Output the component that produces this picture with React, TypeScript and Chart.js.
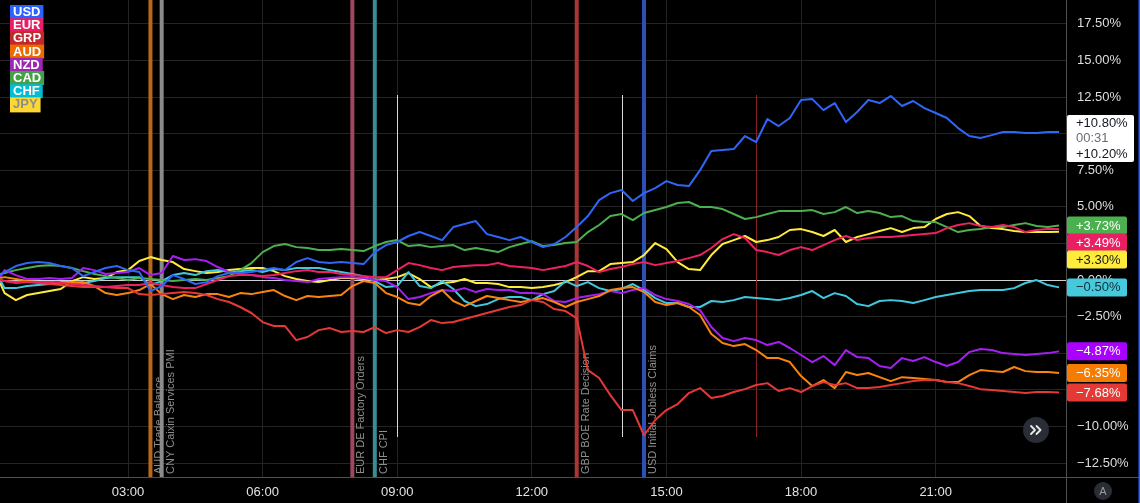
import React, { useEffect, useRef } from 'react';
import { Chart, registerables } from 'chart.js';

Chart.register(...registerables);

// ---------- DATA ----------
const TIMES = [
  0.15, 0.25, 0.5, 0.75,
  1, 1.25, 1.5, 1.75,
  2, 2.25, 2.5, 2.75,
  3, 3.25, 3.5, 3.75,
  4, 4.25, 4.5, 4.75,
  5, 5.25, 5.5, 5.75,
  6, 6.25, 6.5, 6.75,
  7, 7.25, 7.5, 7.75,
  8, 8.25, 8.5, 8.75,
  9, 9.25, 9.5, 9.75,
  10, 10.25, 10.5, 10.75,
  11, 11.25, 11.5, 11.75,
  12, 12.25, 12.5, 12.75,
  13, 13.25, 13.5, 13.75,
  14, 14.25, 14.5, 14.75,
  15, 15.25, 15.5, 15.75,
  16, 16.25, 16.5, 16.75,
  17, 17.25, 17.5, 17.75,
  18, 18.25, 18.5, 18.75,
  19, 19.25, 19.5, 19.75,
  20, 20.25, 20.5, 20.75,
  21, 21.25, 21.5, 21.75,
  22, 22.25, 22.5, 22.75,
  23, 23.25, 23.5, 23.75,
];

const USD = [
  0.34, 0.55, 0.96, 1.16,
  1.23, 1.16, 0.96, 0.82,
  0.27, 0.55, 0.82, 0.96,
  0.68, 0.55, -0.75, -0.41,
  0.34, 0.07, -0.27, -0.14,
  0.27, 0.48, 0.48, 0.55,
  0.68, 0.82, 0.68, 1.23,
  1.5, 1.23, 1.16, 1.23,
  1.16, 1.09, 1.91, 2.39,
  2.6, 3.01, 3.28, 3.01,
  2.73, 3.62, 3.83, 4.03,
  3.14, 2.94, 2.73, 2.94,
  2.6, 2.25, 2.46, 2.94,
  3.62, 4.37, 5.46, 5.94,
  6.15, 5.4, 5.94, 6.28,
  6.76, 6.49, 6.42, 7.51,
  8.81, 8.88, 8.95, 9.84,
  9.43, 11.0, 10.52, 11.07,
  12.3, 12.36, 11.61, 12.09,
  10.79, 11.48, 12.3, 12.09,
  12.57, 11.89, 12.23, 11.75,
  11.41, 11.07, 10.38, 9.84,
  9.7, 9.9, 10.11, 10.11,
  10.04, 10.04, 10.11, 10.11,
];

const EUR = [
  0, -0.07, -0.2, -0.14,
  -0.14, -0.14, -0.2, -0.27,
  -0.34, -0.41, -0.48, -0.41,
  -0.34, -0.34, -0.2, -0.34,
  -0.48, -0.55, -0.55, -0.27,
  0, 0.27, 0.34, 0.34,
  0.27, 0.34, 0.48, 0.61,
  0.68, 0.55, 0.55, 0.41,
  0.34, 0.27, 0.2, 0.2,
  0.68, 1.16, 1.02, 0.82,
  0.68, 0.89, 0.96, 1.02,
  1.02, 1.16, 0.96, 0.89,
  0.82, 0.68, 0.82, 0.96,
  1.23, 0.96, 0.55, 0.75,
  0.89, 1.09, 1.23, 1.02,
  1.16, 1.3, 1.5, 1.71,
  2.19, 2.8, 3.14, 2.87,
  2.05, 1.91, 1.71, 2.05,
  2.25, 2.05, 2.39, 2.73,
  3.01, 2.73, 2.87, 2.94,
  2.94, 3.01, 3.07, 3.14,
  3.21, 3.55, 3.76, 3.89,
  3.69, 3.62, 3.76, 3.62,
  3.28, 3.42, 3.48, 3.49,
];

const GBP = [
  0, -0.07, -0.14, -0.14,
  -0.2, -0.27, -0.34, -0.41,
  -0.48, -0.48, -0.48, -0.55,
  -0.55, -0.96, -1.02, -0.96,
  -0.89, -0.82, -0.89, -1.02,
  -1.3, -1.5, -1.84, -2.25,
  -2.87, -3.14, -3.14, -4.1,
  -3.89, -3.42, -3.28, -3.55,
  -3.48, -3.55, -3.21, -3.62,
  -3.42, -3.55, -3.21, -2.73,
  -2.94, -2.87, -2.66, -2.46,
  -2.25, -2.05, -1.84, -1.71,
  -1.37, -1.5, -1.98, -2.12,
  -2.6, -6.15, -6.69, -7.86,
  -8.88, -8.88, -10.6, -9.56,
  -8.88, -8.47, -7.72, -7.38,
  -8.06, -7.92, -7.65, -7.45,
  -7.17, -7.04, -7.58, -7.38,
  -7.65, -7.24, -6.97, -7.17,
  -7.04, -7.38, -7.38, -7.31,
  -7.17, -7.04, -6.9, -6.83,
  -6.83, -6.97, -7.04, -7.24,
  -7.45, -7.51, -7.58, -7.65,
  -7.72, -7.65, -7.65, -7.68,
];

const AUD = [
  0.14, 0.2, 0.07, -0.07,
  -0.14, -0.14, -0.2, -0.2,
  -0.14, -0.41, -0.89, -1.02,
  -0.89, -0.68, -0.27, -0.96,
  -1.3, -1.02, -1.16, -0.96,
  -0.96, -1.16, -0.89, -0.96,
  -0.82, -0.68, -1.09, -1.37,
  -1.09, -1.16, -1.09, -1.02,
  -0.41, -0.07, -0.2, -0.89,
  -1.16, -1.57, -1.71, -1.09,
  -0.68, -1.43, -1.78, -1.43,
  -1.09, -1.23, -1.37, -1.5,
  -1.37, -1.23, -1.5, -1.84,
  -1.5, -1.3, -1.09, -0.68,
  -0.55, -0.48, -0.82, -1.5,
  -1.71, -1.57, -1.84, -2.39,
  -3.69, -4.3, -4.51, -4.37,
  -4.78, -5.33, -5.33, -5.6,
  -6.56, -7.24, -6.83, -7.38,
  -6.28, -6.49, -6.35, -6.63,
  -6.9, -6.63, -6.69, -6.76,
  -6.83, -6.97, -6.97, -6.49,
  -6.15, -6.22, -6.28, -5.94,
  -6.22, -6.28, -6.28, -6.35,
];

const NZD = [
  0.2, 0.68, 0.34, 0.07,
  0.07, 0.14, 0.07, 0.14,
  0.82, 0.68, 0.41, 0.48,
  0.55, 0.82, 0.34, 0.48,
  1.64, 1.37, 1.43, 1.3,
  0.89, 0.55, 0.41, 0.34,
  0.2, 0.14, 0, -0.07,
  -0.14, 0.07, 0.14, 0.2,
  0.2, 0.14, 0, -0.07,
  -0.48, -1.3, -1.16, -0.89,
  -0.68, -0.75, -0.55, -0.82,
  -0.61, -0.68, -0.68, -0.89,
  -0.89, -0.96, -1.43, -1.5,
  -1.23, -1.09, -0.96, -0.75,
  -0.89, -0.68, -0.55, -1.02,
  -1.3, -1.43, -1.64, -2.05,
  -3.21, -3.96, -4.17, -3.96,
  -4.1, -4.44, -4.23, -4.64,
  -5.12, -5.6, -5.19, -5.81,
  -4.78, -5.26, -5.33, -5.87,
  -6.01, -5.33, -5.53, -5.26,
  -5.6, -5.87, -5.6, -4.92,
  -4.71, -4.78, -4.99, -5.05,
  -5.12, -5.05, -4.99, -4.87,
];

const CAD = [
  0.41, 0.48, 0.68, 0.82,
  0.96, 1.02, 0.96, 0.82,
  0.61, 0.41, 0.27, 0.14,
  0, 0.14, 0.07, 0,
  -0.07, 0, 0.07, 0,
  0.14, 0.27, 0.68, 1.16,
  1.91, 2.32, 2.46, 2.25,
  2.19, 2.05, 2.05, 2.12,
  2.05, 1.98, 2.32, 2.6,
  2.73, 2.32, 2.39, 2.25,
  2.32, 2.39, 2.05, 2.19,
  2.05, 1.91, 2.25, 2.46,
  2.66, 2.32, 2.39, 2.53,
  2.6, 3.28, 3.76, 4.37,
  4.51, 4.1, 4.58, 4.78,
  4.99, 5.26, 5.33, 4.99,
  4.99, 4.85, 4.51, 4.17,
  4.3, 4.51, 4.71, 4.71,
  4.71, 4.78, 4.51, 4.64,
  4.99, 4.58, 4.71, 4.58,
  4.3, 4.37, 4.03, 3.96,
  3.96, 3.62, 3.28, 3.42,
  3.48, 3.62, 3.62, 3.76,
  3.89, 3.69, 3.62, 3.73,
];

const CHF = [
  0, -0.55, -0.55, -0.41,
  -0.34, -0.27, -0.14, -0.14,
  -0.2, -0.07, 0.14, 0.2,
  0.2, 0.2, -0.34, -0.07,
  0.34, 0.48, 0.34, 0.61,
  0.68, 0.55, 0.61, 0.68,
  0.55, 0.75, 0.68, 0.82,
  0.82, 0.82, 0.68, 0.55,
  0.41, 0.27, -0.07, -0.48,
  -0.41, 0.55, -0.41, -0.55,
  -0.07, -0.61, -1.43, -1.78,
  -1.64, -1.3, -1.16, -1.16,
  -1.37, -0.96, -0.75, -0.07,
  -0.41, -0.14, -0.55, -0.75,
  -0.61, -0.27, -0.68, -1.23,
  -1.57, -1.57, -1.84, -1.84,
  -1.43, -1.5, -1.37, -1.16,
  -1.23, -1.3, -1.37, -1.23,
  -1.02, -0.75, -1.23, -0.89,
  -1.09, -1.64, -1.78, -1.43,
  -1.37, -1.43, -1.57, -1.37,
  -1.16, -1.02, -0.89, -0.75,
  -0.68, -0.68, -0.68, -0.55,
  -0.2, 0, -0.34, -0.5,
];

const JPY = [
  -0.2, -0.89, -1.37, -1.02,
  -0.89, -0.75, -0.61, -0.07,
  0.2, 0.07, 0.14, 0.55,
  0.68, 1.3, 1.57, 1.37,
  1.23, 0.75, 0.61, 0.48,
  0.55, 0.68, 0.75, 0.82,
  0.82, 0.61, 0.27, 0.07,
  -0.07, -0.14, 0, 0.14,
  0.14, 0.07, 0, 0.07,
  0.2, 0.48, 0.07, -0.48,
  -0.2, -0.14, 0.07, -0.2,
  -0.2, -0.27, -0.48, -0.48,
  -0.55, -0.48, -0.34, -0.14,
  0.2, 0.61, 0.61, 1.09,
  1.16, 1.23, 1.71, 2.53,
  2.12, 1.23, 0.75, 0.68,
  1.71, 2.46, 2.73, 3.01,
  2.6, 2.73, 2.94, 3.42,
  3.48, 3.28, 3.01, 3.42,
  2.6, 2.94, 3.14, 3.35,
  3.55, 3.28, 3.55, 3.62,
  4.17, 4.51, 4.64, 4.37,
  3.69, 3.55, 3.48, 3.35,
  3.28, 3.28, 3.28, 3.3,
];

const CURRENCIES = ['USD', 'EUR', 'GBP', 'AUD', 'NZD', 'CAD', 'CHF', 'JPY'];
const LEGEND_TEXT = ['USD', 'EUR', 'GRP', 'AUD', 'NZD', 'CAD', 'CHF', 'JPY'];
const SERIES = [USD, EUR, GBP, AUD, NZD, CAD, CHF, JPY];

// last-value tags (currency index, value)
const TAG_CURRENCY = ['CAD', 'EUR', 'JPY', 'CHF', 'NZD', 'AUD', 'GBP'];
const TAG_VALUES = [3.73, 3.49, 3.3, -0.5, -4.87, -6.35, -7.68];
const USD_TAG_HIGH = 10.8;
const USD_TAG_LOW = 10.2;
const USD_TAG_TIME = '00:31';

const X_TICKS = [3, 6, 9, 12, 15, 18, 21];
const X_TICK_LABELS = ['03:00', '06:00', '09:00', '12:00', '15:00', '18:00', '21:00'];
const Y_TICKS = [-12.5, -10, -7.5, -5, -2.5, 0, 2.5, 5, 7.5, 10, 12.5, 15, 17.5];
const X_MIN = 0.147;
const X_MAX = 23.905;
const Y_MIN = -13.52;
const Y_MAX = 19.13;

const EVENT_TIMES = [3.5, 3.75, 8.0, 8.5, 13.0, 14.5];
const EVENT_LABELS = [
  'AUD Trade Balance',
  'CNY Caixin Services PMI',
  'EUR DE Factory Orders',
  'CHF CPI',
  'GBP BOE Rate Decision',
  'USD Initial Jobless Claims',
];
const MARKER_TIMES = [9.0, 14.0, 17.0];
const MARKER_TOP = 12.64;
const MARKER_BOTTOM = -10.72;

// ---------- STYLES ----------
const COLORS: Record<string, string> = {
  USD: '#2f66f6',
  EUR: '#ee2160',
  GBP: '#e53935',
  AUD: '#f98410',
  NZD: '#a61ff2',
  CAD: '#4caf50',
  CHF: '#40c8dc',
  JPY: '#ffeb3b',
};
const LEGEND_BG: Record<string, string> = {
  USD: '#2962ff',
  EUR: '#e91e63',
  GBP: '#c0282e',
  AUD: '#ec6a00',
  NZD: '#9c27b0',
  CAD: '#43a047',
  CHF: '#00bcd4',
  JPY: '#fdd835',
};
const TAG_BG: Record<string, string> = {
  CAD: '#4caf50',
  EUR: '#e91e63',
  JPY: '#ffeb3b',
  CHF: '#46c9dd',
  NZD: '#aa00ff',
  AUD: '#f57c00',
  GBP: '#e53935',
};
const TAG_FG: Record<string, string> = {
  CAD: '#ffffff',
  EUR: '#ffffff',
  JPY: '#131722',
  CHF: '#0f2f36',
  NZD: '#ffffff',
  AUD: '#ffffff',
  GBP: '#ffffff',
};
const EVENT_COLORS = ['#b9671a', '#8a8a8a', '#9e4860', '#3b8d94', '#a73636', '#2d50b3'];
const MARKER_COLORS = ['#d8d8d8', '#d8d8d8', '#8a2222'];
const FONT = '"Liberation Sans", Arial, Helvetica, sans-serif';

function fmtPct(v: number) {
  return (v > 0 ? '+' : v < 0 ? '\u2212' : '') + Math.abs(v).toFixed(2) + '%';
}

const overlayPlugin = {
  id: 'overlay',
  beforeDatasetsDraw(chart: any) {
    const { ctx, chartArea, scales } = chart;
    const xs = scales.x;
    const ys = scales.y;
    ctx.save();
    // thin markers
    MARKER_TIMES.forEach((t, i) => {
      const px = Math.round(xs.getPixelForValue(t)) + 0.5;
      ctx.strokeStyle = MARKER_COLORS[i];
      ctx.lineWidth = 1;
      ctx.beginPath();
      ctx.moveTo(px, ys.getPixelForValue(MARKER_TOP));
      ctx.lineTo(px, ys.getPixelForValue(MARKER_BOTTOM));
      ctx.stroke();
    });
    // event bands
    EVENT_TIMES.forEach((t, i) => {
      const px = xs.getPixelForValue(t);
      ctx.fillStyle = EVENT_COLORS[i];
      ctx.fillRect(px - 2, chartArea.top, 4, chartArea.bottom - chartArea.top);
    });
    // event labels
    ctx.font = '11px ' + FONT;
    ctx.fillStyle = '#8e8e8e';
    ctx.textAlign = 'left';
    ctx.textBaseline = 'middle';
    EVENT_TIMES.forEach((t, i) => {
      const px = xs.getPixelForValue(t);
      ctx.save();
      ctx.translate(px + 9, chartArea.bottom - 4);
      ctx.rotate(-Math.PI / 2);
      ctx.fillText(EVENT_LABELS[i], 0, 0);
      ctx.restore();
    });
    ctx.restore();
  },
  afterDraw(chart: any) {
    const { ctx, chartArea, scales, width, height } = chart;
    const ys = scales.y;
    ctx.save();

    // axis separator lines
    ctx.strokeStyle = '#505050';
    ctx.lineWidth = 1;
    ctx.beginPath();
    ctx.moveTo(0, Math.round(chartArea.bottom) - 0.5);
    ctx.lineTo(width, Math.round(chartArea.bottom) - 0.5);
    ctx.moveTo(Math.round(chartArea.right) + 0.5, 0);
    ctx.lineTo(Math.round(chartArea.right) + 0.5, height);
    ctx.stroke();

    // right edge accent
    ctx.fillStyle = '#2962ff';
    ctx.fillRect(width - 1.5, 0, 1.5, height);

    // legend
    ctx.font = 'bold 13px ' + FONT;
    ctx.textBaseline = 'middle';
    ctx.textAlign = 'left';
    CURRENCIES.forEach((c, i) => {
      const top = 5 + i * 13.2;
      const w = ctx.measureText(LEGEND_TEXT[i]).width + 6;
      ctx.fillStyle = LEGEND_BG[c];
      ctx.fillRect(10, top, w, i === CURRENCIES.length - 1 ? 15 : 14);
      ctx.fillStyle = c === 'JPY' ? '#8d8d8d' : '#ffffff';
      ctx.fillText(LEGEND_TEXT[i], 13, top + 7.5);
    });

    // last-value tags
    const tagLeft = chartArea.right + 1;
    const tagW = 60;
    const tagH = 18;
    ctx.font = '13px ' + FONT;
    let prevCenter = -Infinity;
    TAG_CURRENCY.forEach((c, i) => {
      let cy = ys.getPixelForValue(TAG_VALUES[i]);
      if (cy < prevCenter + 17) cy = prevCenter + 17;
      prevCenter = cy;
      ctx.fillStyle = TAG_BG[c];
      ctx.beginPath();
      ctx.roundRect(tagLeft, cy - tagH / 2, tagW, tagH, 2);
      ctx.fill();
      ctx.fillStyle = TAG_FG[c];
      ctx.fillText(fmtPct(TAG_VALUES[i]), tagLeft + 9, cy + 0.5);
    });

    // USD white box
    const top = ys.getPixelForValue(USD_TAG_HIGH) - 7;
    ctx.fillStyle = '#ffffff';
    ctx.beginPath();
    ctx.roundRect(tagLeft, top, 67, 47, 2);
    ctx.fill();
    ctx.fillStyle = '#131722';
    ctx.fillText(fmtPct(USD_TAG_HIGH), tagLeft + 9, top + 8.5);
    ctx.fillStyle = '#6a6d78';
    ctx.fillText(USD_TAG_TIME, tagLeft + 9, top + 23.5);
    ctx.fillStyle = '#131722';
    ctx.fillText(fmtPct(USD_TAG_LOW), tagLeft + 9, top + 39);

    // scroll button
    ctx.fillStyle = '#2a2d36';
    ctx.beginPath();
    ctx.arc(chartArea.right - 30, chartArea.bottom - 48, 13, 0, Math.PI * 2);
    ctx.fill();
    ctx.strokeStyle = '#e8e8e8';
    ctx.lineWidth = 1.8;
    ctx.lineJoin = 'round';
    ctx.lineCap = 'round';
    const bx = chartArea.right - 30;
    const by = chartArea.bottom - 48;
    ctx.beginPath();
    ctx.moveTo(bx - 5, by - 4);
    ctx.lineTo(bx - 1, by);
    ctx.lineTo(bx - 5, by + 4);
    ctx.moveTo(bx + 0.5, by - 4);
    ctx.lineTo(bx + 4.5, by);
    ctx.lineTo(bx + 0.5, by + 4);
    ctx.stroke();

    // "A" auto-scale button
    const ax = chartArea.right + 37;
    const ay = chartArea.bottom + 13;
    ctx.fillStyle = '#2a2d36';
    ctx.beginPath();
    ctx.arc(ax, ay, 9, 0, Math.PI * 2);
    ctx.fill();
    ctx.fillStyle = '#9a9a9a';
    ctx.font = '11px ' + FONT;
    ctx.textAlign = 'center';
    ctx.fillText('A', ax, ay + 0.5);

    ctx.restore();
  },
};

export default function App() {
  const canvasRef = useRef<HTMLCanvasElement | null>(null);

  useEffect(() => {
    document.body.style.margin = '0';
    document.body.style.background = '#000';
    const canvas = canvasRef.current;
    if (!canvas) return;

    const datasets = CURRENCIES.map((c, i) => ({
      label: c,
      data: TIMES.map((t, j) => ({ x: t, y: SERIES[i][j] })),
      borderColor: COLORS[c],
      backgroundColor: COLORS[c],
      borderWidth: 2,
      pointRadius: 0,
      tension: 0,
      borderJoinStyle: 'round' as const,
      fill: false,
    }));

    const chart = new Chart(canvas, {
      type: 'line',
      data: { datasets },
      plugins: [overlayPlugin],
      options: {
        animation: false,
        responsive: false,
        maintainAspectRatio: false,
        devicePixelRatio: 1,
        layout: { padding: 0 },
        events: [],
        plugins: {
          legend: { display: false },
          tooltip: { enabled: false },
        },
        scales: {
          x: {
            type: 'linear',
            min: X_MIN,
            max: X_MAX,
            afterBuildTicks: (s: any) => {
              s.ticks = X_TICKS.map((v) => ({ value: v }));
            },
            afterFit: (s: any) => {
              s.height = 25;
              s.paddingLeft = 0;
              s.paddingRight = 0;
            },
            grid: { color: '#242424', lineWidth: 1, drawTicks: false },
            border: { display: false },
            ticks: {
              color: '#e4e4e4',
              font: { family: FONT, size: 13 },
              padding: 7,
              maxRotation: 0,
              autoSkip: false,
              callback: (v: any) => {
                const k = X_TICKS.indexOf(Number(v));
                return k >= 0 ? X_TICK_LABELS[k] : '';
              },
            },
          },
          y: {
            type: 'linear',
            position: 'right',
            min: Y_MIN,
            max: Y_MAX,
            afterBuildTicks: (s: any) => {
              s.ticks = Y_TICKS.map((v) => ({ value: v }));
            },
            afterFit: (s: any) => {
              s.width = 74;
              s.paddingTop = 0;
              s.paddingBottom = 0;
            },
            grid: {
              color: (c: any) => (c.tick && c.tick.value === 0 ? '#cfcfcf' : '#242424'),
              lineWidth: 1,
              drawTicks: false,
            },
            border: { display: false },
            ticks: {
              color: '#dedede',
              font: { family: FONT, size: 13 },
              padding: 11,
              crossAlign: 'near',
              callback: (v: any) => {
                const n = Number(v);
                return (n < 0 ? '\u2212' : '') + Math.abs(n).toFixed(2) + '%';
              },
            },
          },
        },
      },
    });

    return () => {
      chart.destroy();
    };
  }, []);

  return (
    <div style={{ width: 1140, height: 503, background: '#000', position: 'relative' }}>
      <canvas ref={canvasRef} width={1140} height={503} style={{ display: 'block' }} />
    </div>
  );
}
